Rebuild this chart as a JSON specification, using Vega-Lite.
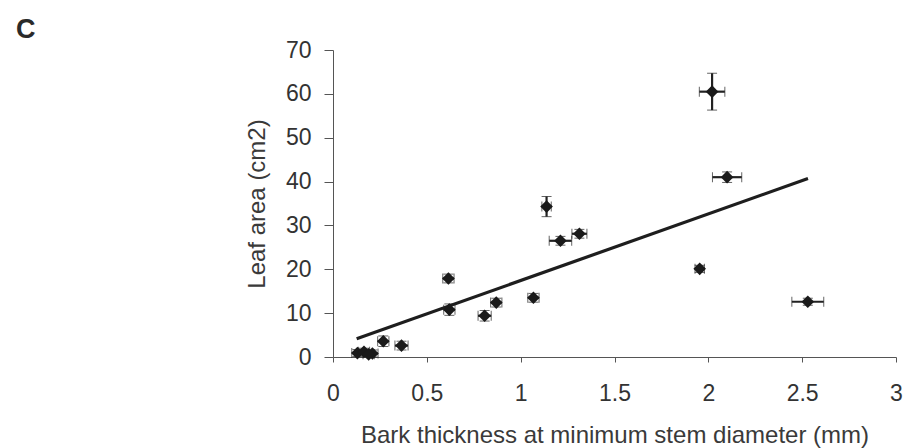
{
  "$schema": "https://vega.github.io/schema/vega-lite/v6.json",
  "autosize": "none",
  "width": 563,
  "height": 307,
  "padding": {"left": 333, "top": 50, "right": 14, "bottom": 91},
  "background": "white",
  "title": {"text": "C", "anchor": "start", "frame": "group", "dx": -317, "dy": 37, "offset": 11, "baseline": "alphabetic", "fontSize": 27, "fontWeight": "bold", "font": "Liberation Sans", "color": "#2a2a2a"},
  "config": {
    "view": {"stroke": null},
    "font": "Liberation Sans",
    "axis": {"grid": false, "domainColor": "#555", "tickColor": "#555", "labelColor": "#333", "titleColor": "#3a3a3a", "labelFont": "Liberation Sans", "titleFont": "Liberation Sans", "labelFontSize": 23, "titleFontSize": 24, "titleFontWeight": "normal"}
  },
  "datasets": {
    "pts": [
      {"x": 2.02, "y": 60.5, "xlo": 1.952, "xhi": 2.088, "ylo": 56.3, "yhi": 64.7},
      {"x": 2.10, "y": 41.0, "xlo": 2.022, "xhi": 2.178, "ylo": 39.8, "yhi": 42.2},
      {"x": 2.53, "y": 12.6, "xlo": 2.445, "xhi": 2.615, "ylo": 11.8, "yhi": 13.4},
      {"x": 1.954, "y": 20.1, "xlo": 1.929, "xhi": 1.979, "ylo": 19.3, "yhi": 20.9},
      {"x": 1.138, "y": 34.3, "xlo": 1.113, "xhi": 1.163, "ylo": 32.0, "yhi": 36.6},
      {"x": 1.212, "y": 26.5, "xlo": 1.152, "xhi": 1.272, "ylo": 25.5, "yhi": 27.5},
      {"x": 1.313, "y": 28.1, "xlo": 1.273, "xhi": 1.353, "ylo": 27.1, "yhi": 29.1},
      {"x": 1.068, "y": 13.5, "xlo": 1.038, "xhi": 1.098, "ylo": 12.5, "yhi": 14.5},
      {"x": 0.870, "y": 12.4, "xlo": 0.840, "xhi": 0.900, "ylo": 11.4, "yhi": 13.4},
      {"x": 0.808, "y": 9.4, "xlo": 0.773, "xhi": 0.843, "ylo": 8.2, "yhi": 10.6},
      {"x": 0.615, "y": 17.9, "xlo": 0.585, "xhi": 0.645, "ylo": 16.9, "yhi": 18.9},
      {"x": 0.620, "y": 10.8, "xlo": 0.590, "xhi": 0.650, "ylo": 9.5, "yhi": 12.1},
      {"x": 0.365, "y": 2.6, "xlo": 0.330, "xhi": 0.400, "ylo": 1.6, "yhi": 3.6},
      {"x": 0.268, "y": 3.6, "xlo": 0.238, "xhi": 0.298, "ylo": 2.4, "yhi": 4.8},
      {"x": 0.13, "y": 0.9, "xlo": 0.10, "xhi": 0.16, "ylo": 0.1, "yhi": 1.7},
      {"x": 0.165, "y": 1.2, "xlo": 0.135, "xhi": 0.195, "ylo": 0.4, "yhi": 2.0},
      {"x": 0.21, "y": 0.8, "xlo": 0.18, "xhi": 0.24, "ylo": 0.0, "yhi": 1.6},
      {"x": 0.19, "y": 0.6, "xlo": 0.16, "xhi": 0.22, "ylo": 0.0, "yhi": 1.2}
    ],
    "fit": [
      {"x": 0.126, "y": 4.15},
      {"x": 2.531, "y": 40.7}
    ]
  },
  "layer": [
    {
      "data": {"name": "fit"},
      "mark": {"type": "line", "color": "#1e1e1e", "strokeWidth": 3.2},
      "encoding": {
        "x": {"field": "x", "type": "quantitative", "scale": {"domain": [0, 3], "nice": false}, "title": "Bark thickness at minimum stem diameter (mm)",
          "axis": {"values": [0, 0.5, 1, 1.5, 2, 2.5, 3], "format": "~g", "tickSize": 5, "labelPadding": 20, "titlePadding": 18, "labelFlush": false}},
        "y": {"field": "y", "type": "quantitative", "scale": {"domain": [0, 70], "nice": false}, "title": "Leaf area (cm2)",
          "axis": {"values": [0, 10, 20, 30, 40, 50, 60, 70], "tickSize": 9, "labelPadding": 13, "titlePadding": 16, "labelFlush": false}}
      }
    },
    {
      "data": {"name": "pts"},
      "mark": {"type": "errorbar", "color": "#222", "ticks": {"size": 10, "strokeWidth": 2.2, "color": "#222"}, "rule": {"strokeWidth": 2.2}},
      "encoding": {
        "x": {"field": "x", "type": "quantitative", "title": "Bark thickness at minimum stem diameter (mm)"},
        "y": {"field": "ylo", "type": "quantitative", "title": "Leaf area (cm2)"},
        "y2": {"field": "yhi"}
      }
    },
    {
      "data": {"name": "pts"},
      "mark": {"type": "errorbar", "color": "#222", "ticks": {"size": 10, "strokeWidth": 2.2, "color": "#222"}, "rule": {"strokeWidth": 2.2}},
      "encoding": {
        "y": {"field": "y", "type": "quantitative", "title": "Leaf area (cm2)"},
        "x": {"field": "xlo", "type": "quantitative", "title": "Bark thickness at minimum stem diameter (mm)"},
        "x2": {"field": "xhi"}
      }
    },
    {
      "data": {"name": "pts"},
      "mark": {"type": "point", "shape": "diamond", "filled": true, "size": 160, "color": "#1a1a1a", "opacity": 1},
      "encoding": {
        "x": {"field": "x", "type": "quantitative", "title": "Bark thickness at minimum stem diameter (mm)"},
        "y": {"field": "y", "type": "quantitative", "title": "Leaf area (cm2)"}
      }
    }
  ]
}
